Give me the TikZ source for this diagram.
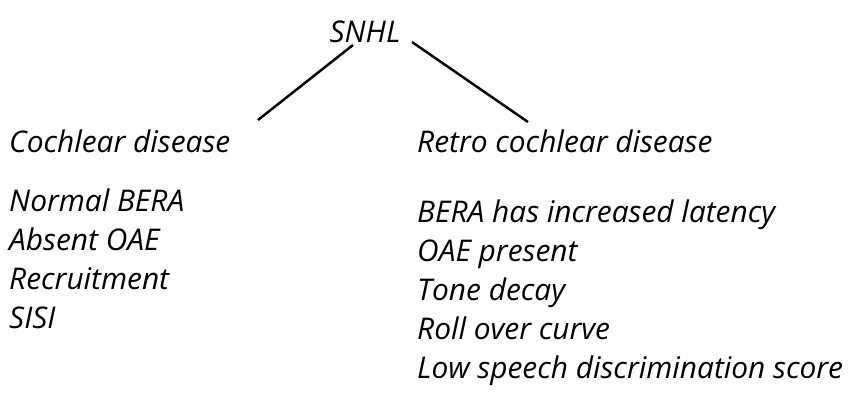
\documentclass[tikz,border=0pt]{standalone}
\usepackage{fontspec}
\setmainfont{Open Sans}

\begin{document}
\begin{tikzpicture}[x=0.02cm,y=-0.02cm,line width=1.4pt]
    \tikzstyle{word}=[font=\fontsize{17}{20}\selectfont\itshape\mdseries, inner sep=0pt, anchor=base west]
    \tikzstyle{head}=[word]
    \useasboundingbox (0,0) rectangle (853,399);

    % Draw the root node
    \node[word, anchor=base] (snhl) at (365,42) {SNHL};

    % Draw the two kinds of disease
    \node[head] (cd) at (8,152) {Cochlear disease};
    \node[head] (rcd) at (416,152) {Retro cochlear disease};

    % Connect the root with both kinds
    \draw ([xshift=-0.24cm,yshift=-0.06cm]snhl.base) -- ([xshift=5cm,yshift=0.64cm]cd.base west);
    \draw ([xshift=0.94cm]snhl.base) -- ([xshift=2.24cm,yshift=0.6cm]rcd.base west);

    % List the findings under each kind
    \foreach \item [count=\i] in {Normal BERA, Absent OAE, Recruitment, SISI}
        \node[word] (c-\i) at (8, 172+39*\i) {\item};
    \foreach \item [count=\i] in {BERA has increased latency, OAE present, Tone decay,
        Roll over curve, Low speech discrimination score}
        \node[word] (r-\i) at (416, 183+39*\i) {\item};
\end{tikzpicture}
\end{document}
